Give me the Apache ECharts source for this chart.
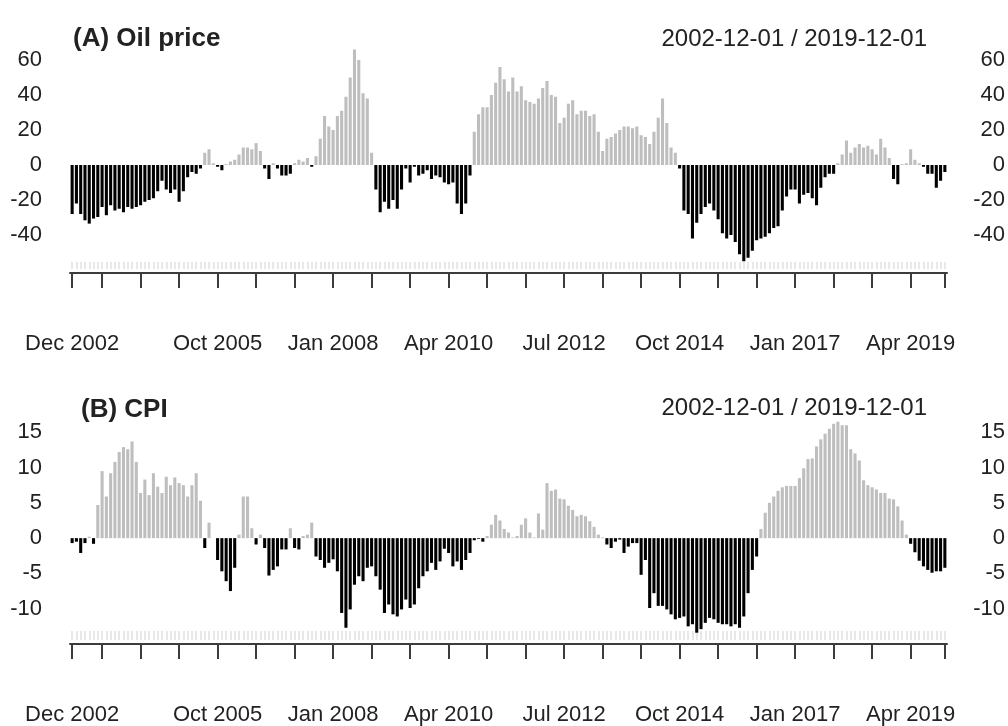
<!DOCTYPE html>
<html lang="en">
<head>
  <meta charset="UTF-8">
  <title>Oil price and CPI</title>
  <style>
    html, body { margin: 0; padding: 0; background: #fff; }
    #chart { width: 1008px; height: 726px; }
  </style>
</head>
<body>
  <div id="chart"></div>
  <script src="https://cdn.jsdelivr.net/npm/echarts@6/dist/echarts.min.js"></script>
  <script>
    // monthly observations, Dec 2002 .. Dec 2019
    var monthNames = ['Jan', 'Feb', 'Mar', 'Apr', 'May', 'Jun', 'Jul', 'Aug', 'Sep', 'Oct', 'Nov', 'Dec'];
    var months = [];
    for (var i = 0; i < 205; i++) {
      var m = (11 + i) % 12;
      var y = 2002 + Math.floor((11 + i) / 12);
      months.push(monthNames[m] + ' ' + y);
    }

    var xLabels = ['Dec 2002', 'Oct 2005', 'Jan 2008', 'Apr 2010', 'Jul 2012', 'Oct 2014', 'Jan 2017', 'Apr 2019'];
    var oilTicks = [-40, -20, 0, 20, 40, 60];
    var cpiTicks = [-10, -5, 0, 5, 10, 15];

    var oilPrice = [
      -28, -22, -28, -31.6, -33.5, -30.6, -29.7, -24, -28.7, -23,
      -26, -25, -27, -24, -25, -24, -23, -21, -20, -19,
      -15, -9, -14, -16, -14, -21, -15, -7, -4, -5,
      -2, 7, 9, 1, -1, -3, 0.5, 2, 3, 6,
      10, 10, 9, 12.5, 8, -2, -8, 1, -2, -6,
      -6, -5, 1, 3, 2, 4, -1, 5, 15, 28,
      22, 20, 28, 31, 39, 50, 66, 60, 41, 38,
      7, -14, -27, -21, -25, -20, -25, -14, -2, -10,
      -1, -6, -5, -3, -8, -6, -7, -10, -11, -10,
      -22, -28, -22, -6, 19, 29, 33, 33, 40, 47,
      56, 49, 42, 50, 42, 45, 37, 36, 35, 38,
      44, 48, 40, 39, 24, 27, 35, 37, 29, 31,
      31, 28, 29, 19, 8, 15, 16, 18, 20, 22,
      22, 21, 22, 17, 16, 12, 19, 27, 38, 24,
      10, 7, -2, -26, -28, -42, -33, -28, -24, -22,
      -26, -31, -39, -42, -40, -44, -51, -55, -53, -49,
      -43, -42, -41, -39, -36, -35, -26, -18, -14, -14,
      -22, -17, -16, -19, -23, -13, -7, -5, -5, 1,
      6, 14, 7, 10, 12, 10, 11, 9, 6, 15,
      10, 4, -8, -11, 0.5, 1, 9, 3, 1, -1,
      -5, -5, -13, -9, -4
    ];

    var cpi = [
      -0.7, -0.5, -2.1, -0.7, 0.2, -0.8, 4.7, 9.5, 5.9, 9.2,
      10.8, 12.2, 12.9, 12.6, 13.7, 10.8, 6.4, 8.3, 6.1, 9.2,
      7.3, 6.4, 8.7, 7.5, 8.6, 7.8, 7.5, 5.9, 7.5, 9.2,
      5.3, -1.4, 2.2, 0, -3.1, -4.7, -6.1, -7.5, -4.2, 0.5,
      5.9, 5.9, 1.4, -0.9, 0.5, -1.4, -5.3, -4.5, -4.0, -1.6,
      -1.6, 1.4, -1.4, -1.6, 0.3, 0.5, 2.2, -2.6, -3.1, -4.2,
      -3.5, -3.0, -4.7, -10.6, -12.7, -10.1, -6.6, -5.4, -6.1, -4.2,
      -4.0, -5.4, -7.3, -10.6, -9.4, -10.8, -11.1, -10.1, -8.7, -9.9,
      -9.4, -7.1, -5.4, -4.7, -3.5, -4.5, -3.3, -1.5, -2.1, -4.0,
      -3.3, -4.5, -3.1, -2.1, -0.3, -0.1, -0.5, 0.3, 1.9, 3.3,
      2.5, 1.3, 0.8, 0.1, 0.3, 1.9, 2.8, 0.8, 0.1, 3.5,
      1.2, 7.8, 6.7, 6.9, 5.6, 5.5, 4.6, 4.0, 3.1, 3.3,
      3.1, 2.4, 1.6, 0.5, 0.1, -0.9, -1.4, -0.5, -0.2, -2.1,
      -1.2, -0.7, -0.7, -5.2, -3.1, -9.9, -7.8, -9.6, -9.6, -10.1,
      -10.8, -11.5, -11.3, -11.1, -12.5, -12.2, -13.4, -12.9, -12.0, -11.3,
      -11.5, -12.0, -12.2, -12.2, -12.5, -12.2, -12.7, -11.1, -7.8, -4.5,
      -2.6, 1.3, 3.6, 5.0, 5.9, 6.7, 7.2, 7.4, 7.4, 7.4,
      8.5, 9.9, 11.2, 11.3, 13.0, 14.0, 14.8, 15.5, 16.2, 16.5,
      16.0, 16.0, 12.6, 12.0, 11.0, 8.2, 7.5, 7.2, 6.9, 6.4,
      6.4, 5.6, 5.5, 4.5, 2.5, 0.5, -0.8, -2.0, -3.2, -4.0,
      -4.5, -4.9, -4.7, -4.7, -4.2
    ];

    var labelFont = "'Liberation Sans', Arial, sans-serif";
    var textColor = '#222';
    var axisColor = '#3c3c3c';

    // ticks every 9 months from Jul 2003, plus first and last month
    function tickAt(index) {
      return index === 0 || index === months.length - 1 || (index >= 7 && (index - 7) % 9 === 0);
    }
    function labelAt(index, value) {
      return xLabels.indexOf(value) >= 0;
    }

    function mainX(grid, offset) {
      return {
        type: 'category', gridIndex: grid, data: months, position: 'bottom', offset: offset,
        axisLine: { show: true, onZero: false, lineStyle: { color: axisColor, width: 2 } },
        axisTick: { show: true, alignWithLabel: true, interval: tickAt, length: 15, lineStyle: { color: axisColor, width: 2 } },
        axisLabel: { interval: labelAt, margin: 60, fontSize: 22, fontFamily: labelFont, color: textColor },
        splitLine: { show: false }
      };
    }
    // faint monthly tick band above the axis
    function bandX(grid, offset, len) {
      return {
        type: 'category', gridIndex: grid, data: months, position: 'bottom', offset: offset,
        axisLine: { show: false, onZero: false },
        axisTick: { show: true, inside: true, alignWithLabel: true, interval: 0, length: len, lineStyle: { color: '#e8e8e8', width: 2 } },
        axisLabel: { show: false },
        splitLine: { show: false }
      };
    }
    function valY(grid, side, min, max, step, ticks) {
      return {
        type: 'value', gridIndex: grid, position: side, min: min, max: max, interval: step,
        axisLine: { show: false }, axisTick: { show: false }, splitLine: { show: false },
        axisLabel: {
          fontSize: 22, fontFamily: labelFont, color: textColor,
          margin: side === 'left' ? 28 : 58,
          align: 'right',
          formatter: function (v) { return ticks.indexOf(v) >= 0 ? String(v) : ''; }
        }
      };
    }
    function barColor(p) {
      return p.value >= 0 ? '#bebebe' : '#000000';
    }

    var chart = echarts.init(document.getElementById('chart'));
    chart.setOption({
      animation: false,
      backgroundColor: '#fff',
      title: [
        { text: '(A) Oil price', left: 68, top: 21, textStyle: { fontSize: 26, fontWeight: 'bold', fontFamily: 'Liberation Sans', color: textColor } },
        { text: '2002-12-01 / 2019-12-01', right: 76, top: 22, textStyle: { fontSize: 24, fontWeight: 'normal', fontFamily: 'Liberation Sans', color: textColor } },
        { text: '(B) CPI', left: 76, top: 392, textStyle: { fontSize: 26, fontWeight: 'bold', fontFamily: 'Liberation Sans', color: textColor } },
        { text: '2002-12-01 / 2019-12-01', right: 76, top: 391, textStyle: { fontSize: 24, fontWeight: 'normal', fontFamily: 'Liberation Sans', color: textColor } }
      ],
      grid: [
        { left: 70, right: 59, top: 25, height: 245 },
        { left: 70, right: 59, top: 397, height: 247 }
      ],
      xAxis: [
        mainX(0, 3),
        bandX(0, -1, 7),
        mainX(1, 0),
        bandX(1, -4, 9)
      ],
      yAxis: [
        valY(0, 'left', -60, 80, 20, oilTicks),
        valY(0, 'right', -60, 80, 20, oilTicks),
        valY(1, 'left', -15, 20, 5, cpiTicks),
        valY(1, 'right', -15, 20, 5, cpiTicks)
      ],
      series: [
        { type: 'bar', name: 'Oil price', xAxisIndex: 0, yAxisIndex: 0, data: oilPrice, barWidth: '72%', itemStyle: { color: barColor } },
        { type: 'bar', name: 'CPI', xAxisIndex: 2, yAxisIndex: 2, data: cpi, barWidth: '72%', itemStyle: { color: barColor } }
      ]
    });
  </script>
</body>
</html>
